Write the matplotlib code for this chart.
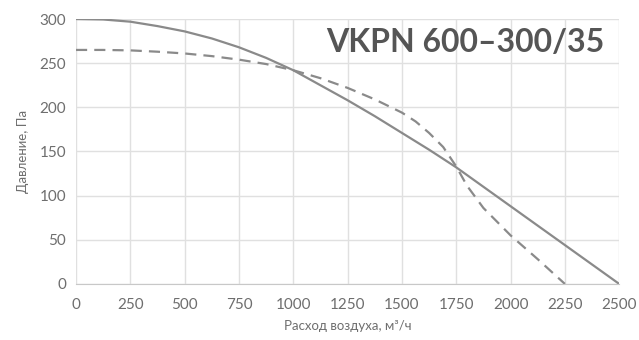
import matplotlib
matplotlib.use("Agg")
import matplotlib.pyplot as plt

flow_solid = [0, 125, 250, 375, 500, 625, 750, 875, 1000, 1125, 1250, 1375, 1500,
              1625, 1750, 1875, 2000, 2125, 2250, 2375, 2500]
press_solid = [300, 299.5, 297, 292, 286, 278, 268, 256, 242, 225, 208, 190, 171,
               152, 132, 110, 88, 66, 44, 22, 0]
flow_dash = [0, 125, 250, 375, 500, 625, 750, 875, 1000, 1125, 1250, 1375, 1500,
             1563, 1625, 1690, 1750, 1800, 1875, 2000, 2125, 2250]
press_dash = [265, 265, 264.5, 263, 261, 258, 254, 249, 242, 233, 222, 209, 194,
              184, 171, 155, 133, 111, 86, 55, 28, 0]
xticks = [0, 250, 500, 750, 1000, 1250, 1500, 1750, 2000, 2250, 2500]
yticks = [0, 50, 100, 150, 200, 250, 300]
title = "VKPN 600–300/35"

plt.rcParams['font.family'] = ['Lato', 'DejaVu Sans']
fig = plt.figure(figsize=(6.39, 3.4), dpi=100)
ax = fig.add_axes([0.119, 0.165, 0.850, 0.779])
ax.plot(flow_solid, press_solid, color='#8a8a8a', lw=1.6, solid_joinstyle='round')
ax.plot(flow_dash, press_dash, color='#8a8a8a', lw=1.6, dashes=(5, 3.2),
        dash_joinstyle='round')
ax.set_xlim(0, 2500)
ax.set_ylim(0, 300)
ax.set_xticks(xticks)
ax.set_yticks(yticks)
ax.grid(True, color='#e0e0e0', lw=1)
ax.set_axisbelow(True)
for s in ['top', 'right', 'left']:
    ax.spines[s].set_visible(False)
ax.spines['bottom'].set_color('#c8c8c8')
ax.tick_params(axis='both', length=0, labelsize=11, labelcolor='#6e6e6e', pad=7)
ax.tick_params(axis='x', pad=10)
ax.set_xlabel("Расход воздуха, м³/ч", fontsize=9.5, color='#6e6e6e', labelpad=6)
ax.set_ylabel("Давление, Па", fontsize=9.5, color='#6e6e6e', labelpad=8)
ax.text(0.972, 0.965, title, transform=ax.transAxes, ha='right', va='top',
        fontsize=23, fontweight='bold', color='#555555')
fig.savefig("out.png", dpi=100)
